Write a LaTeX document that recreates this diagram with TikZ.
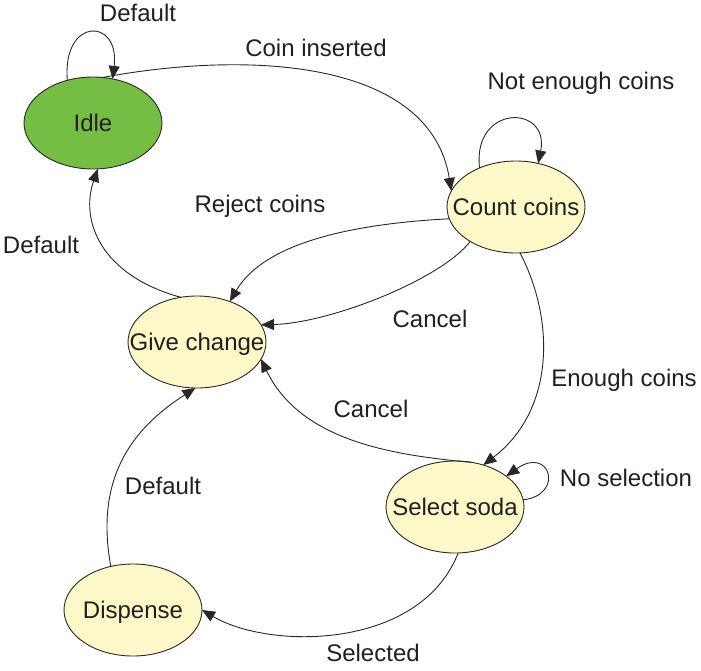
\documentclass[tikz,border=0pt]{standalone}
\usepackage{fontspec}
\setmainfont{Liberation Sans}
\usetikzlibrary{shapes.geometric,arrows.meta}
\definecolor{txt}{RGB}{35,31,32}
\definecolor{ln}{RGB}{40,40,40}
\definecolor{idlegreen}{RGB}{118,189,67}
\definecolor{stateyellow}{RGB}{252,248,200}
\newcommand\sttext[1]{\smash{\makebox[0pt]{\raisebox{-0.36em}{#1}}}}
\tikzset{
  state/.style={ellipse,draw=ln,line width=0.9pt,minimum width=138pt,minimum height=92pt,inner sep=0pt,outer sep=0pt,fill=stateyellow,text=txt,font=\fontsize{24}{28}\selectfont},
  lbl/.style={text=txt,font=\fontsize{24}{28}\selectfont,inner sep=0pt},
  arr/.style={draw=ln,line width=0.9pt,-{Triangle[length=13pt,width=11pt]}}
}
\begin{document}
\begin{tikzpicture}[x=1pt,y=-1pt]
\useasboundingbox (0,0) rectangle (701,670);
\node[state,fill=idlegreen] (idle) at (93,123) {\sttext{Idle}};
\node[state] (count) at (516,207) {\sttext{Count coins}};
\node[state] (give) at (197,342) {\sttext{Give change}};
\node[state] (select) at (455,507) {\sttext{Select soda}};
\node[state] (disp) at (133,610) {\sttext{Dispense}};

\draw[arr] (idle.121) .. controls (62,17) and (120,17) .. (idle.66);
\draw[arr] (idle.78) .. controls (250,50) and (430,60) .. (count.166);
\draw[arr] (count.133) .. controls (472,104) and (550,104) .. (count.63);
\draw[arr] (count.190) .. controls (330,225) and (260,250) .. (give.51);
\draw[arr] (count.217) .. controls (440,280) and (330,323) .. (give.15);
\draw[arr] (give.110) .. controls (100,275) and (80,220) .. (idle.276);
\draw[arr] (count.275) .. controls (555,320) and (555,410) .. (select.56);
\draw[arr] (select.70) .. controls (390,455) and (300,440) .. (give.345);
\draw[arr] (select.6) .. controls (565,495) and (550,445) .. (select.31);
\draw[arr] (select.274) .. controls (420,650) and (270,650) .. (disp.0);
\draw[arr] (disp.117) .. controls (95,480) and (130,430) .. (give.268);

\node[lbl] (l1) at (138,13) {Default};
\node[lbl] (l2) at (316,48) {Coin inserted};
\node[lbl] (l3) at (581,83) {Not enough coins};
\node[lbl] (l4) at (260,206) {Reject coins};
\node[lbl] (l5) at (41,245) {Default};
\node[lbl] (l6) at (430,319) {Cancel};
\node[lbl] (l7) at (624,380) {Enough coins};
\node[lbl] (l8) at (371,409) {Cancel};
\node[lbl] (l9) at (626,478) {No selection};
\node[lbl] (l10) at (373,653) {Selected};
\node[lbl] (l11) at (163,486) {Default};
\end{tikzpicture}
\end{document}
